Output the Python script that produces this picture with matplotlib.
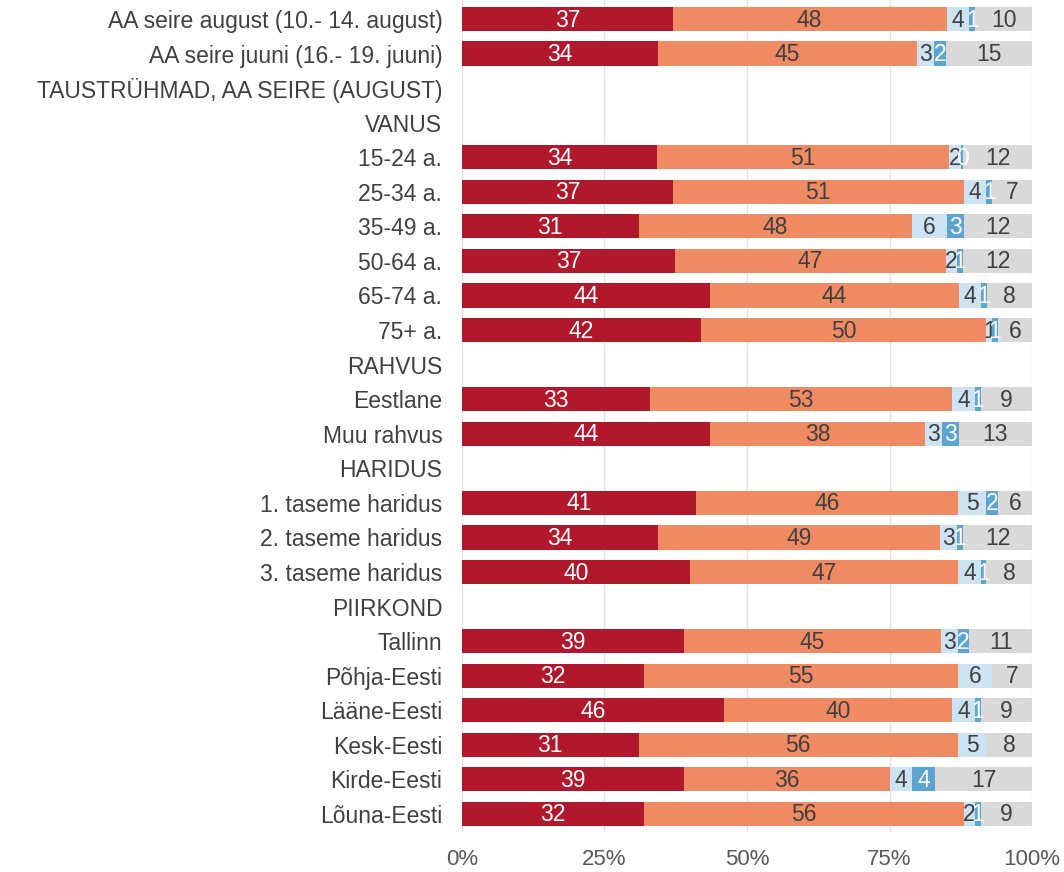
import numpy as np
import matplotlib.pyplot as plt

plt.rcParams['font.family'] = ['Liberation Sans', 'DejaVu Sans']

categories = [
    "AA seire august (10.- 14. august)",
    "AA seire juuni (16.- 19. juuni)",
    "TAUSTRÜHMAD, AA SEIRE (AUGUST)",
    "VANUS",
    "15-24 a.", "25-34 a.", "35-49 a.", "50-64 a.", "65-74 a.", "75+ a.",
    "RAHVUS",
    "Eestlane", "Muu rahvus",
    "HARIDUS",
    "1. taseme haridus", "2. taseme haridus", "3. taseme haridus",
    "PIIRKOND",
    "Tallinn", "Põhja-Eesti", "Lääne-Eesti", "Kesk-Eesti", "Kirde-Eesti", "Lõuna-Eesti",
]

# series values per category (empty header rows = None)
s1 = [37, 34, None, None, 34, 37, 31, 37, 44, 42, None, 33, 44, None, 41, 34, 40, None, 39, 32, 46, 31, 39, 32]
s2 = [48, 45, None, None, 51, 51, 48, 47, 44, 50, None, 53, 38, None, 46, 49, 47, None, 45, 55, 40, 56, 36, 56]
s3 = [4, 3, None, None, 2, 4, 6, 2, 4, 1, None, 4, 3, None, 5, 3, 4, None, 3, 6, 4, 5, 4, 2]
s4 = [1, 2, None, None, 0.4, 1, 3, 1, 1, 1, None, 1, 3, None, 2, 1, 1, None, 2, 0, 1, 0, 4, 1]
s5 = [10, 15, None, None, 12, 7, 12, 12, 8, 6, None, 9, 13, None, 6, 12, 8, None, 11, 7, 9, 8, 17, 9]

series = [s1, s2, s3, s4, s5]
colors = ["#B2182B", "#F08A62", "#CDE3F1", "#5DA5D1", "#D9D9D9"]
text_colors = ["white", "#404040", "#404040", "white", "#404040"]

fig = plt.figure(figsize=(10.64, 8.72), dpi=100)
ax = fig.add_axes([0.434, 0.046, 0.536, 0.954])

n = len(categories)
y = np.arange(n)
data = np.array([[np.nan if v is None else v for v in s] for s in series], dtype=float)
totals = np.nansum(data, axis=0)
totals[totals == 0] = 1

left = np.zeros(n)
for k in range(5):
    vals = np.nan_to_num(data[k]) / totals
    ax.barh(y, vals, left=left, height=0.7, color=colors[k], edgecolor="none", zorder=2)
    for i in range(n):
        v = data[k][i]
        if np.isnan(v) or v == 0:
            continue
        ax.text(left[i] + vals[i] / 2, y[i] + 0.03, "%.0f" % v, ha="center", va="center",
                fontsize=16.5, color=text_colors[k], zorder=3)
    left += vals

ax.set_xlim(0, 1)
ax.set_ylim(n - 0.5 + 0.02, -0.55)
ax.set_yticks(y)
ax.set_yticklabels(categories, fontsize=16.5, color="#404040")
ax.set_xticks([0, 0.25, 0.5, 0.75, 1.0])
ax.set_xticklabels(["0%", "25%", "50%", "75%", "100%"], fontsize=16, color="#595959")
ax.tick_params(axis="both", length=0)
ax.tick_params(axis="y", pad=14)
ax.tick_params(axis="x", pad=12)
ax.grid(axis="x", color="#E3E3E3", linewidth=1, zorder=0)
for sp in ax.spines.values():
    sp.set_visible(False)

fig.savefig("out.png", dpi=100)
